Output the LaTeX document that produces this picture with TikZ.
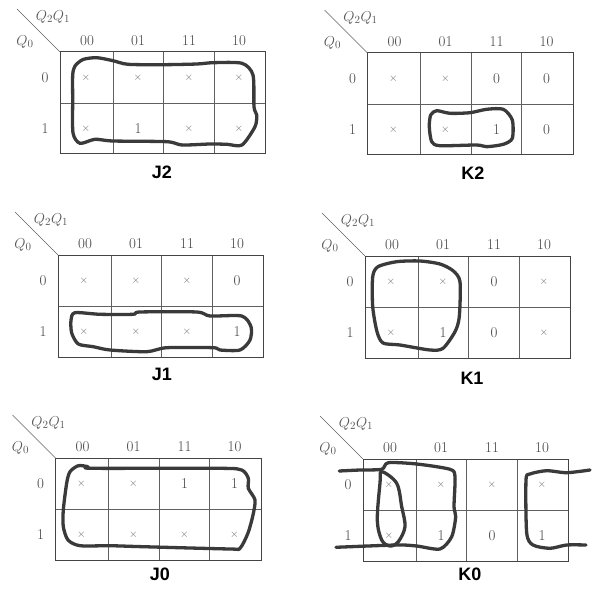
\documentclass[tikz,border=0pt]{standalone}
\usepackage{fontspec}
\setsansfont{Liberation Sans}
\usetikzlibrary{calc}
\definecolor{kink}{HTML}{3A3A3A}
\definecolor{kprint}{HTML}{444444}
\tikzset{
  kgrid/.style={kprint!85, line width=0.5pt},
  kframe/.style={kprint, line width=1pt},
  kdigit/.style={font=\fontsize{15}{15}\selectfont, text=kprint},
  kvar/.style={font=\fontsize{15}{15}\selectfont, text=kprint!90},
  ktitle/.style={font=\fontsize{18}{18}\sffamily\bfseries, text=black},
  kloop/.style={kink, line width=3.3pt, line cap=round, line join=round},
}
\newcommand{\kx}{{\fontsize{11}{11}\selectfont\color{kprint!80}$\times$}}
% one map: name, top-left corner, the eight cell entries
\newcommand{\kmap}[4]{%
  \begin{scope}[shift={(#2,#3)}]
    \coordinate (#1corner) at (0,0);
    \coordinate (#1tick) at (-43,-43);
    \draw[kgrid] (53,0) -- (53,102) (103.5,0) -- (103.5,102) (154,0) -- (154,102) (0,51) -- (205.5,51);
    \draw[kframe] (0,0) rectangle (205.5,102);
    \draw[kgrid] (#1tick) -- (#1corner);
    \node[kvar] (#1top) at (-7,-35) {$Q_2Q_1$};
    \node[kvar] (#1side) at (-35,-10) {$Q_0$};
    \node[kdigit] (#1r0) at (-15,26) {0};
    \node[kdigit] (#1r1) at (-15,77) {1};
    \foreach \khead/\kcx in {00/27, 01/78, 11/129, 10/179}
      \node[kdigit] (#1h\khead) at (\kcx,-11) {\khead};
    \foreach \kval [count=\kidx from 0] in {#4} {
      \pgfmathtruncatemacro\kcol{mod(\kidx,4)}
      \pgfmathtruncatemacro\krow{int(\kidx/4)}
      \pgfmathsetmacro\kcx{{26,78,129,179}[\kcol]}
      \node[kdigit] (#1c\kidx) at (\kcx,26+50.5*\krow) {\kval};
    }
  \end{scope}
}

\begin{document}
\begin{tikzpicture}[x=1pt, y=-1pt]
\useasboundingbox (0,0) rectangle (600,591);
\kmap{jtwo}{60}{52}{\kx,\kx,\kx,\kx,\kx,1,\kx,\kx}
\kmap{ktwo}{367.5}{53}{\kx,\kx,0,0,\kx,\kx,1,0}
\kmap{jone}{58}{255}{\kx,\kx,\kx,0,\kx,\kx,\kx,1}
\kmap{kone}{365}{256}{\kx,\kx,0,\kx,\kx,1,0,\kx}
\kmap{jzero}{55.5}{458}{\kx,\kx,1,1,\kx,\kx,\kx,\kx}
\kmap{kzero}{363}{459}{\kx,\kx,\kx,\kx,\kx,1,0,1}
\node[ktitle] (jtwot) at (162,172) {J2};
\node[ktitle] (ktwot) at (473,173) {K2};
\node[ktitle] (jonet) at (162,374) {J1};
\node[ktitle] (konet) at (472,378) {K1};
\node[ktitle] (jzerot) at (160,574) {J0};
\node[ktitle] (kzerot) at (470,574) {K0};
% hand-drawn groups
\draw[kloop] plot[smooth cycle, tension=0.45] coordinates {(72.7,75) (75,66) (83,59.5) (96.7,57.7) (113,60.7) (128,64.3) (163,64.7) (197,64) (213,62.7) (242,63.3) (253,75) (254,107) (256.7,115) (255,126.7) (242,145) (227,144.3) (210,144) (182,145) (167,141.7) (113,141) (95,139.3) (80,143.3) (73,133) (72.7,100)};
\draw[kloop] plot[smooth cycle, tension=0.45] coordinates {(429.3,126.7) (430.7,115) (436.7,110.7) (450,113.3) (470,112.7) (486.7,109.3) (503.3,109.3) (512.3,120) (512.3,138.3) (503.3,144.3) (486.7,146.7) (476.7,145) (440,145.7) (431.7,141.7)};
\draw[kloop] plot[smooth cycle, tension=0.45] coordinates {(71,320) (75,312.7) (100,314.3) (133.3,314.3) (140,312) (196.7,312) (210,316) (241.7,316) (251,326.7) (250,340) (240,350) (220,350) (213,347.7) (166.7,347.7) (146.7,351.7) (110,350) (93.3,346.7) (78.3,344) (71.7,333)};
\draw[kloop] plot[smooth cycle, tension=0.45] coordinates {(372.7,276.7) (378,266.7) (396.7,261.7) (420,261) (440,264) (453,270.7) (460,281.7) (459.3,316.7) (455,331.7) (443,348.3) (430,350) (400,345) (383,343) (377,331.7) (372.7,306.7)};
\draw[kloop] plot[smooth cycle, tension=0.45] coordinates {(63.3,510) (66.7,483) (70,471.7) (78.3,465.7) (88,466.7) (93,468.3) (220,468.3) (241.7,470) (248.3,478.3) (248.3,488.3) (255,500) (253,515) (248,533) (240,548.3) (230,549) (143,546.7) (110,545.7) (80,545.7) (68,540) (63.3,526.7)};
\draw[kloop] plot[smooth, tension=0.45] coordinates {(339.3,471) (360,470) (381.7,469.3) (388.3,462.7) (416.7,464) (450,469.3) (455,476.7) (454,506.7) (455.7,516.7) (451.7,536.7) (440,549) (416.7,546) (396.7,545) (336,547.3)};
\draw[kloop] plot[smooth cycle, tension=0.55] coordinates {(381.7,471.7) (396.7,483.3) (401.7,506.7) (405,526.7) (398.3,541.7) (390,546) (381.7,540) (377.3,520) (380,483)};
\draw[kloop] plot[smooth, tension=0.45] coordinates {(590,470) (566.7,472.7) (546.7,470.7) (530,474) (526,480) (526.7,533) (533,545) (550,548.3) (566.7,545) (586,545)};
\end{tikzpicture}
\end{document}
